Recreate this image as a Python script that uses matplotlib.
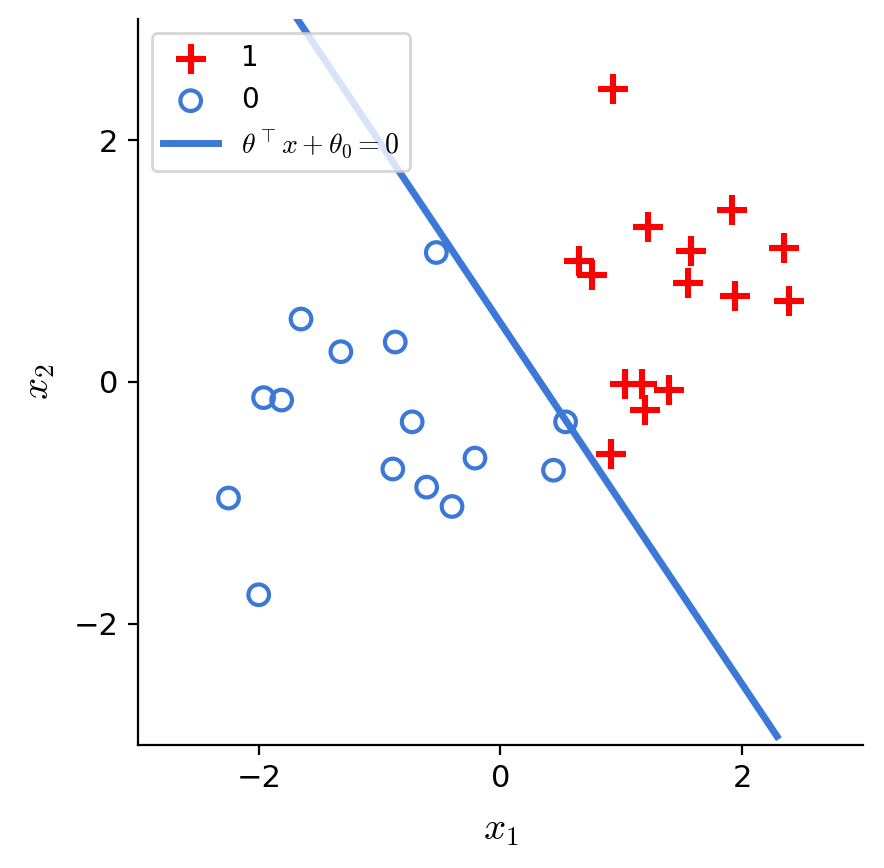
import matplotlib
matplotlib.use("Agg")
import matplotlib.pyplot as plt
import numpy as np

plt.rcParams["mathtext.fontset"] = "cm"

BLUE = "#3c78d8"

# class 1 points (plus markers)
pos_x = [0.93, 1.22, 0.65, 0.76, 1.58, 1.92, 2.35, 1.55, 1.94, 2.39, 1.03, 1.17, 1.40, 1.20, 0.92]
pos_y = [2.42, 1.28, 1.00, 0.88, 1.08, 1.42, 1.11, 0.82, 0.71, 0.67, -0.02, -0.02, -0.07, -0.23, -0.60]

# class 0 points (open circles)
neg_x = [-0.53, -1.65, -1.32, -0.87, -1.96, -1.81, -0.73, 0.54, -0.21, -0.89, 0.44, -0.61, -0.40, -2.25, -2.00]
neg_y = [1.07, 0.52, 0.25, 0.33, -0.13, -0.15, -0.33, -0.33, -0.63, -0.72, -0.73, -0.87, -1.03, -0.96, -1.76]

# decision boundary
line_x = [-1.68, 2.29]
line_y = [3.0, -2.93]

fig = plt.figure(figsize=(4.42, 4.34), dpi=200)
ax = fig.add_axes([0.156, 0.142, 0.820, 0.836])

ax.scatter(pos_x, pos_y, marker="+", s=110, linewidths=2.2, color="red", label="1", zorder=3)
ax.scatter(neg_x, neg_y, marker="o", s=55, facecolors="none", edgecolors=BLUE,
           linewidths=1.5, label="0", zorder=3)
ax.plot(line_x, line_y, color=BLUE, lw=2.5, label=r"$\theta^\top x + \theta_0 = 0$")

ax.set_xlim(-3, 3)
ax.set_ylim(-3, 3)
ax.set_xticks([-2, 0, 2])
ax.set_yticks([-2, 0, 2])
ax.tick_params(labelsize=11)
ax.set_xlabel(r"$x_1$", fontsize=14, labelpad=6)
ax.set_ylabel(r"$x_2$", fontsize=14, labelpad=6)
ax.spines[["top", "right"]].set_visible(False)
ax.legend(loc="upper left")

fig.savefig("out.png", dpi=200)
